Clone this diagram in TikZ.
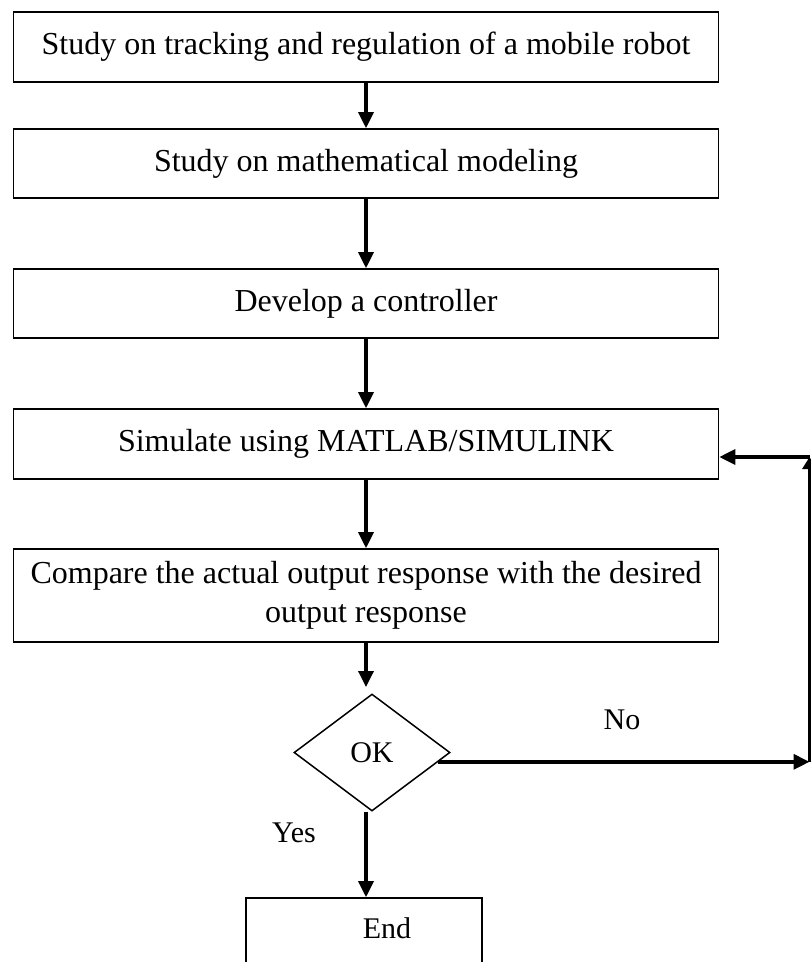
\documentclass[tikz,border=0pt]{standalone}
\usepackage{fontspec}
\setmainfont{Liberation Serif}
\usetikzlibrary{shapes.geometric,arrows.meta}
\tikzset{
  stepbox/.style={draw, line width=1.6pt, rectangle, minimum width=705pt, inner sep=0pt,
    align=center, font=\fontsize{32pt}{39pt}\selectfont},
  decision/.style={draw, line width=1.5pt, diamond, minimum width=156pt, minimum height=117pt,
    inner sep=0pt, font=\fontsize{30pt}{36pt}\selectfont},
  lbl/.style={font=\fontsize{30pt}{36pt}\selectfont, inner sep=0pt},
  arr/.style={line width=3.4pt, -{Triangle[length=16pt,width=15pt]}},
}
\begin{document}
\begin{tikzpicture}[x=1pt,y=-1pt]
\useasboundingbox (0,0) rectangle (811,962);
\clip (0,0) rectangle (811,962);
\node[stepbox, minimum height=69.5pt] (b1) at (366,47) {Study on tracking and regulation of a mobile robot};
\node[stepbox, minimum height=69pt] (b2) at (366,163.5) {Study on mathematical modeling};
\node[stepbox, minimum height=69pt] (b3) at (366,303.5) {Develop a controller};
\node[stepbox, minimum height=70pt] (b4) at (366,444) {Simulate using MATLAB/SIMULINK};
\node[stepbox, minimum height=93pt] (b5) at (366,595.5) {Compare the actual output response with the desired\\output response};
\node[decision] (dia) at (372,752.5) {OK};
\node[draw, line width=1.6pt, rectangle, minimum width=236pt, minimum height=130pt, inner sep=0pt] (end) at (364,963) {};
\node[lbl] (endtxt) at (387,928) {End};
\node[lbl] (yes) at (294,833) {Yes};
\node[lbl] (no) at (622,720) {No};
\coordinate (lb) at (809.5,762);
\coordinate (lt) at (809.5,457);
\coordinate (dtop) at (366,687);
\draw[arr] (b1) -- (b2);
\draw[arr] (b2) -- (b3);
\draw[arr] (b3) -- (b4);
\draw[arr] (b4) -- (b5);
\draw[arr] (b5.south) -- (dtop);
\draw[arr] (dia.south -| b5.south) -- (end.north -| b5.south);
\draw[arr] (dia.-8) -- (dia.-8 -| lb);
\draw[line width=3pt, -{Triangle[length=12pt,width=14pt]}] (lb) -- (lt);
\draw[arr] (lt) -- (lt -| b4.east);
\end{tikzpicture}
\end{document}
